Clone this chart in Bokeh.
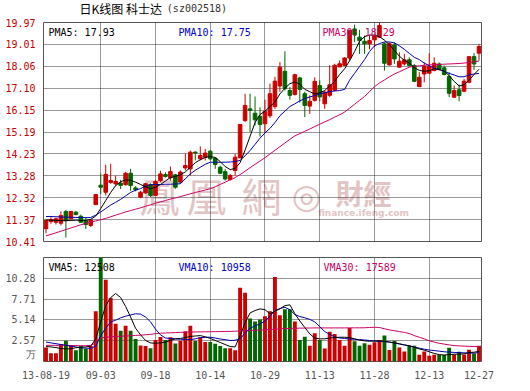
from bokeh.plotting import figure
from bokeh.models import Range1d, FixedTicker, Label, NumeralTickFormatter
from bokeh.layouts import column
from bokeh.embed import file_html
from bokeh.resources import INLINE

# ---------------- data ----------------
date_ticks = [0, 11, 22, 33, 44, 55, 66, 77, 87]
date_labels = ["13-08-19", "09-03", "09-18", "10-14", "10-29", "11-13", "11-28", "12-13", "12-27"]
price_ticks = [10.41, 11.37, 12.32, 13.28, 14.23, 15.19, 16.15, 17.10, 18.06, 19.01, 19.97]
vol_ticks = [2.57, 5.14, 7.71, 10.28]
vol_top = 12.85
vol_unit = "万"

opens = [10.97, 11.28, 11.25, 11.21, 11.72, 11.40, 11.69, 11.51, 11.32, 11.11,
         12.02, 12.87, 12.56, 12.99, 12.93, 12.96, 12.89, 13.39, 12.75, 12.34,
         12.53, 12.90, 12.42, 13.07, 13.33, 13.19, 13.32, 13.00, 13.62, 13.58,
         14.31, 14.02, 14.09, 14.35, 14.05, 13.65, 13.46, 13.12, 13.51, 14.06,
         15.69, 16.20, 16.01, 15.87, 15.55, 15.90, 16.30, 17.20, 17.84, 17.00,
         16.83, 17.55, 16.86, 16.32, 16.57, 17.22, 16.42, 16.79, 17.01, 18.03,
         18.10, 18.42, 19.69, 19.33, 19.15, 19.04, 19.21, 19.33, 19.04, 18.12,
         18.99, 18.02, 18.16, 18.34, 18.09, 17.17, 17.72, 17.76, 17.87, 18.16,
         17.99, 17.61, 16.71, 17.03, 16.97, 17.36, 18.48, 18.63]
highs = [11.37, 11.47, 11.45, 11.72, 11.79, 11.72, 11.74, 11.58, 11.47, 11.38,
         12.46, 13.37, 13.76, 13.80, 13.29, 13.10, 13.45, 13.58, 12.82, 12.62,
         12.95, 12.95, 13.10, 13.50, 13.43, 13.68, 13.36, 13.51, 14.24, 14.38,
         14.35, 14.56, 14.45, 14.41, 14.09, 13.72, 13.58, 13.36, 14.24, 15.52,
         16.86, 16.86, 16.74, 16.27, 16.60, 17.30, 17.60, 18.24, 18.71, 17.15,
         17.73, 17.60, 16.95, 16.79, 17.58, 17.45, 17.00, 18.10, 18.17, 18.32,
         18.46, 19.65, 19.88, 19.65, 19.40, 19.40, 19.40, 19.97, 19.10, 19.10,
         19.10, 18.67, 18.60, 18.45, 18.16, 17.80, 18.23, 18.63, 18.45, 18.23,
         18.09, 17.80, 17.22, 17.26, 17.51, 18.48, 18.63, 19.04]
lows = [10.77, 11.18, 11.15, 11.11, 10.58, 11.38, 11.55, 11.22, 10.96, 11.04,
        12.00, 12.49, 12.42, 12.93, 12.85, 12.70, 12.85, 12.62, 12.60, 12.30,
        12.50, 12.35, 12.40, 13.00, 13.20, 13.07, 12.71, 12.93, 13.51, 13.29,
        13.95, 13.95, 13.95, 13.95, 13.58, 13.36, 13.07, 13.07, 13.29, 14.06,
        15.62, 15.18, 15.47, 14.99, 15.15, 15.80, 16.20, 16.95, 17.00, 16.60,
        16.78, 16.47, 15.84, 15.98, 16.52, 16.53, 16.20, 16.72, 16.97, 18.03,
        18.07, 18.32, 19.11, 18.60, 18.60, 18.80, 18.90, 19.30, 17.87, 18.09,
        18.16, 17.99, 18.09, 18.05, 17.36, 17.15, 17.36, 17.73, 17.84, 17.87,
        17.66, 16.71, 16.68, 16.53, 16.93, 17.32, 17.90, 18.31]
closes = [11.33, 11.37, 11.40, 11.54, 11.32, 11.72, 11.59, 11.25, 11.15, 11.35,
          12.46, 12.78, 13.34, 13.07, 13.03, 12.86, 13.39, 12.85, 12.67, 12.56,
          12.93, 12.42, 13.03, 13.36, 13.25, 13.46, 12.78, 13.44, 13.73, 14.31,
          14.27, 14.16, 14.27, 14.02, 13.77, 13.39, 13.14, 13.29, 14.09, 15.52,
          16.35, 16.13, 15.72, 15.52, 16.10, 16.86, 17.41, 18.02, 17.08, 16.79,
          17.69, 17.05, 16.35, 16.53, 17.40, 16.72, 16.93, 17.25, 18.10, 18.17,
          18.42, 19.63, 19.43, 19.18, 19.04, 19.18, 19.38, 19.84, 18.19, 19.04,
          18.38, 18.28, 18.34, 18.09, 17.40, 17.58, 18.05, 18.05, 18.19, 17.94,
          17.70, 16.88, 17.00, 16.78, 17.41, 18.48, 18.16, 18.92]
volumes = [1.73, 1.02, 1.02, 2.15, 2.57, 2.03, 1.40, 1.90, 1.56, 1.90,
           6.22, 14.0, 10.1, 7.85, 4.67, 3.79, 4.42, 3.79, 2.78, 1.98,
           1.90, 1.65, 2.65, 3.03, 2.65, 3.00, 2.23, 2.57, 3.74, 4.42,
           2.53, 3.00, 2.40, 2.40, 2.20, 1.90, 1.65, 1.65, 1.40, 9.10,
           8.50, 5.30, 4.95, 5.20, 5.60, 6.20, 10.45, 5.70, 6.45, 6.45,
           4.95, 2.66, 3.07, 1.95, 3.49, 2.66, 1.62, 3.69, 3.40, 2.66,
           1.95, 4.15, 2.49, 1.95, 2.24, 2.07, 2.37, 2.66, 3.20, 1.41,
           2.57, 1.74, 1.24, 1.95, 1.95, 0.83, 1.24, 0.70, 0.83, 0.79,
           0.79, 1.70, 0.87, 1.20, 0.87, 1.45, 1.00, 1.95]
ma5 = [11.35, 11.34, 11.33, 11.32, 11.32, 11.33, 11.34, 11.33, 11.33, 11.38,
       11.52, 11.85, 12.20, 12.55, 12.85, 13.02, 13.10, 13.08, 13.00, 12.90,
       12.80, 12.71, 12.78, 12.90, 13.05, 13.20, 13.25, 13.32, 13.45, 13.65,
       13.85, 13.98, 14.08, 14.12, 14.08, 13.90, 13.68, 13.55, 13.60, 13.85,
       14.40, 15.00, 15.60, 15.95, 16.10, 16.30, 16.50, 16.85, 17.10, 17.30,
       17.37, 17.28, 17.05, 16.95, 16.85, 16.90, 17.00, 17.20, 17.40, 17.70,
       17.95, 18.30, 18.70, 19.15, 19.35, 19.42, 19.42, 19.35, 19.20, 19.00,
       18.75, 18.50, 18.32, 18.20, 18.00, 17.88, 17.84, 17.86, 17.95, 17.92,
       17.85, 17.65, 17.40, 17.20, 17.25, 17.45, 17.70, 17.93]
ma10 = [11.50, 11.50, 11.49, 11.48, 11.47, 11.47, 11.46, 11.46, 11.45, 11.46,
        11.56, 11.70, 11.85, 12.00, 12.12, 12.25, 12.40, 12.55, 12.65, 12.72,
        12.82, 12.88, 12.90, 12.90, 12.91, 12.91, 12.92, 12.93, 13.15, 13.36,
        13.52, 13.65, 13.78, 13.87, 13.87, 13.87, 13.87, 13.88, 13.90, 13.95,
        14.15, 14.38, 14.65, 14.92, 15.15, 15.35, 15.60, 15.90, 16.10, 16.30,
        16.42, 16.55, 16.65, 16.72, 16.78, 16.85, 16.90, 16.95, 16.98, 17.00,
        17.05, 17.45, 17.75, 18.05, 18.35, 18.70, 18.95, 19.05, 19.12, 19.12,
        19.08, 18.95, 18.80, 18.62, 18.45, 18.35, 18.20, 18.08, 17.98, 17.92,
        17.84, 17.75, 17.68, 17.60, 17.60, 17.68, 17.72, 17.75]
ma30 = [10.66, 10.72, 10.79, 10.86, 10.93, 11.00, 11.07, 11.14, 11.20, 11.26,
        11.31, 11.36, 11.42, 11.49, 11.56, 11.63, 11.70, 11.76, 11.82, 11.88,
        11.95, 12.01, 12.08, 12.14, 12.20, 12.26, 12.31, 12.37, 12.43, 12.49,
        12.55, 12.60, 12.66, 12.71, 12.80, 12.90, 13.00, 13.10, 13.20, 13.33,
        13.48, 13.63, 13.78, 13.92, 14.07, 14.23, 14.39, 14.55, 14.71, 14.87,
        15.02, 15.12, 15.22, 15.32, 15.43, 15.53, 15.63, 15.73, 15.84, 15.94,
        16.06, 16.23, 16.40, 16.57, 16.74, 16.95, 17.17, 17.33, 17.46, 17.60,
        17.72, 17.82, 17.92, 18.02, 18.06, 18.08, 18.10, 18.12, 18.13, 18.14,
        18.15, 18.16, 18.17, 18.18, 18.20, 18.22, 18.25, 18.29]
vma5 = [1.85, 1.80, 1.72, 1.60, 1.55, 1.58, 1.70, 1.75, 1.80, 1.90,
        2.80, 4.90, 6.90, 7.90, 8.40, 7.90, 6.80, 5.50, 4.10, 3.30,
        2.60, 2.30, 2.25, 2.30, 2.40, 2.60, 2.80, 2.85, 2.95, 3.10,
        3.15, 3.20, 3.05, 2.85, 2.60, 2.35, 2.10, 1.85, 1.80, 3.20,
        4.80, 6.00, 6.30, 6.50, 6.40, 5.90, 6.20, 6.50, 6.90, 7.00,
        5.90, 5.00, 4.20, 3.40, 2.90, 2.80, 2.80, 2.90, 2.95, 3.00,
        3.00, 2.95, 2.80, 2.65, 2.55, 2.50, 2.55, 2.55, 2.50, 2.40,
        2.30, 2.20, 2.05, 1.95, 1.75, 1.55, 1.40, 1.20, 1.00, 0.85,
        0.80, 0.85, 0.90, 0.90, 0.95, 1.10, 1.15, 1.25]
vma10 = [2.40, 2.30, 2.20, 2.10, 2.00, 1.90, 1.80, 1.70, 1.65, 1.62,
         1.90, 3.20, 4.10, 4.90, 5.10, 5.40, 5.60, 5.75, 5.90, 5.85,
         5.50, 4.90, 4.00, 3.30, 2.90, 2.85, 2.80, 2.75, 2.72, 2.70,
         2.80, 2.95, 3.00, 3.00, 2.90, 2.78, 2.70, 2.60, 2.62, 2.80,
         3.50, 4.10, 4.40, 4.65, 5.00, 5.60, 6.30, 6.55, 6.70, 6.40,
         5.80, 5.55, 5.40, 5.20, 4.90, 4.30, 3.70, 3.35, 3.05, 2.90,
         2.85, 2.78, 2.74, 2.70, 2.66, 2.60, 2.52, 2.49, 2.45, 2.40,
         2.30, 2.15, 2.05, 1.92, 1.78, 1.65, 1.52, 1.42, 1.35, 1.28,
         1.20, 1.16, 1.12, 1.10, 1.07, 1.05, 1.04, 1.10]
vma30 = [2.00, 2.00, 2.00, 2.00, 2.00, 1.98, 1.96, 1.95, 1.95, 2.00,
         2.30, 2.90, 3.00, 3.05, 3.10, 3.12, 3.15, 3.18, 3.22, 3.26,
         3.30, 3.35, 3.45, 3.50, 3.52, 3.55, 3.57, 3.60, 3.62, 3.64,
         3.65, 3.66, 3.67, 3.68, 3.69, 3.70, 3.71, 3.72, 3.74, 3.78,
         3.80, 3.84, 3.86, 3.88, 3.90, 3.95, 4.00, 4.04, 4.07, 4.09,
         4.10, 4.12, 4.13, 4.14, 4.15, 4.15, 4.15, 4.15, 4.15, 4.15,
         4.15, 4.16, 4.16, 4.16, 4.17, 4.20, 4.23, 4.20, 4.05, 3.90,
         3.80, 3.70, 3.60, 3.45, 3.20, 3.00, 2.80, 2.55, 2.40, 2.25,
         2.15, 2.05, 1.97, 1.93, 1.90, 1.87, 1.86, 1.85]

title_text = "日K线图 科士达"
code_text = "(sz002518)"
pma_texts = ["PMA5: 17.93", "PMA10: 17.75", "PMA30: 18.29"]
vma_texts = ["VMA5: 12508", "VMA10: 10958", "VMA30: 17589"]

# ---------------- styles ----------------
RED = "#cc0000"
GREEN = "#006600"
BLUE = "#0000aa"
MAG = "#cc0066"
MONO = "DejaVu Sans Mono"
CJK = "Noto Sans CJK SC"
W = 522
TOP_H = 17

# pixel geometry helpers (frame 43..481 wide, price frame 22..241, volume frame 257..361)
def px_x(px):
    return (px - 43) / (438 / 88) - 0.5

def px_p(py):
    return price_ticks[-1] - (py - 22) * (price_ticks[-1] - price_ticks[0]) / 219

def px_v(py):
    return vol_top - (py - 257) * vol_top / 104

n = len(closes)
idx = list(range(n))
up = [c >= o for o, c in zip(opens, closes)]
colors = [RED if u else GREEN for u in up]
body_top = [max(o, c) for o, c in zip(opens, closes)]
body_bot = [min(o, c) for o, c in zip(opens, closes)]


def style(p):
    p.background_fill_color = "white"
    p.border_fill_color = "white"
    p.outline_line_color = "#555555"
    p.outline_line_width = 1
    p.xgrid.ticker = FixedTicker(ticks=date_ticks[1:-1])
    for g in (p.xgrid, p.ygrid):
        g.grid_line_color = "#333333"
        g.grid_line_dash = "1 1"
        g.grid_line_width = 1
    p.yaxis.axis_line_color = None
    p.yaxis.major_tick_line_color = None
    p.yaxis.minor_tick_line_color = None
    p.yaxis.major_label_standoff = 2
    p.yaxis.major_label_text_font = MONO
    p.yaxis.major_label_text_font_size = "10px"
    p.yaxis.formatter = NumeralTickFormatter(format="0.00")


# ---------------- title strip ----------------
p0 = figure(width=W, height=TOP_H, x_range=Range1d(0, W), y_range=Range1d(0, TOP_H),
            output_backend="svg", toolbar_location=None,
            x_axis_location=None, y_axis_location=None,
            min_border_left=0, min_border_right=0, min_border_top=0, min_border_bottom=0)
p0.outline_line_color = None
p0.grid.visible = False
p0.add_layout(Label(x=43, y=TOP_H - 8, text=title_text, text_font=CJK, text_font_size="12px",
                    text_color="black", text_baseline="middle"))
p0.add_layout(Label(x=147, y=TOP_H - 8, text=code_text, text_font=MONO, text_font_size="10px",
                    text_color="#333333", text_baseline="middle"))

# ---------------- price panel ----------------
p1 = figure(width=W, height=249 - TOP_H, x_range=Range1d(-0.5, n - 0.5),
            y_range=Range1d(price_ticks[0], price_ticks[-1]),
            output_backend="svg", toolbar_location=None,
            min_border_left=43, min_border_right=41, min_border_top=22 - TOP_H,
            min_border_bottom=8)
style(p1)
p1.xaxis.visible = False
p1.yaxis.ticker = FixedTicker(ticks=price_ticks)
p1.ygrid.ticker = FixedTicker(ticks=price_ticks[1:-1])
p1.yaxis.major_label_text_color = RED

# watermark
wm_col = "#e3c4c4"
for ch, cx in [("鳳", 159), ("凰", 206), ("網", 261)]:
    p1.add_layout(Label(x=px_x(cx), y=px_p(194), text=ch,
                        text_font="Noto Sans CJK TC", text_font_size="40px", text_color=wm_col,
                        text_align="center", text_baseline="middle", level="image"))
p1.add_layout(Label(x=px_x(306), y=px_p(195), text="◎",
                    text_font="DejaVu Sans", text_font_size="34px", text_color=wm_col,
                    text_align="center", text_baseline="middle", level="image"))
for ch, cx in [("財", 349), ("經", 377)]:
    p1.add_layout(Label(x=px_x(cx), y=px_p(192), text=ch,
                        text_font="Noto Sans CJK TC", text_font_size="28px", text_color=wm_col,
                        text_font_style="bold", text_align="center", text_baseline="middle",
                        level="image"))
p1.add_layout(Label(x=px_x(363), y=px_p(212), text="finance.ifeng.com",
                    text_font="DejaVu Sans", text_font_size="9px", text_font_style="bold",
                    text_color=wm_col, text_align="center", text_baseline="middle", level="image"))

p1.segment(x0=idx, y0=lows, x1=idx, y1=highs, line_color=colors, line_width=1)
p1.vbar(x=idx, top=body_top, bottom=body_bot, width=0.72, fill_color=colors,
        line_color=colors, line_width=1)
p1.line(idx, ma30, line_color=MAG, line_width=1)
p1.line(idx, ma10, line_color=BLUE, line_width=1)
p1.line(idx, ma5, line_color="black", line_width=1)

for t, px, col in zip(pma_texts, [48, 178, 322], ["black", "#0000cc", MAG]):
    p1.add_layout(Label(x=px_x(px), y=px_p(32), text=t, text_font=MONO,
                        text_font_size="10px", text_color=col, text_baseline="middle"))

# ---------------- volume panel ----------------
p2 = figure(width=W, height=138, x_range=p1.x_range, y_range=Range1d(0, vol_top),
            output_backend="svg", toolbar_location=None,
            min_border_left=43, min_border_right=41, min_border_top=8, min_border_bottom=26)
style(p2)
unit_pos = px_v(354)
p2.yaxis.ticker = FixedTicker(ticks=[unit_pos] + vol_ticks)
p2.yaxis.major_label_overrides = {unit_pos: vol_unit}
p2.ygrid.ticker = FixedTicker(ticks=vol_ticks)
p2.yaxis.major_label_text_color = "#555555"
p2.xaxis.ticker = FixedTicker(ticks=date_ticks)
p2.xaxis.major_label_overrides = {t: l for t, l in zip(date_ticks, date_labels)}
p2.xaxis.axis_line_color = None
p2.xaxis.major_tick_line_color = None
p2.xaxis.minor_tick_line_color = None
p2.xaxis.major_label_standoff = 3
p2.xaxis.major_label_text_font = MONO
p2.xaxis.major_label_text_font_size = "10px"
p2.xaxis.major_label_text_color = "#555555"

p2.vbar(x=idx, top=volumes, bottom=0, width=0.78, fill_color=colors, line_color=None)
p2.line(idx, vma30, line_color=MAG, line_width=1)
p2.line(idx, vma10, line_color=BLUE, line_width=1)
p2.line(idx, vma5, line_color="black", line_width=1)

for t, px, col in zip(vma_texts, [48, 178, 323], ["black", "#0000cc", MAG]):
    p2.add_layout(Label(x=px_x(px), y=px_v(267), text=t, text_font=MONO,
                        text_font_size="10px", text_color=col, text_baseline="middle"))

layout = column(p0, p1, p2, spacing=0)
open("out.html", "w").write(file_html(layout, INLINE))
